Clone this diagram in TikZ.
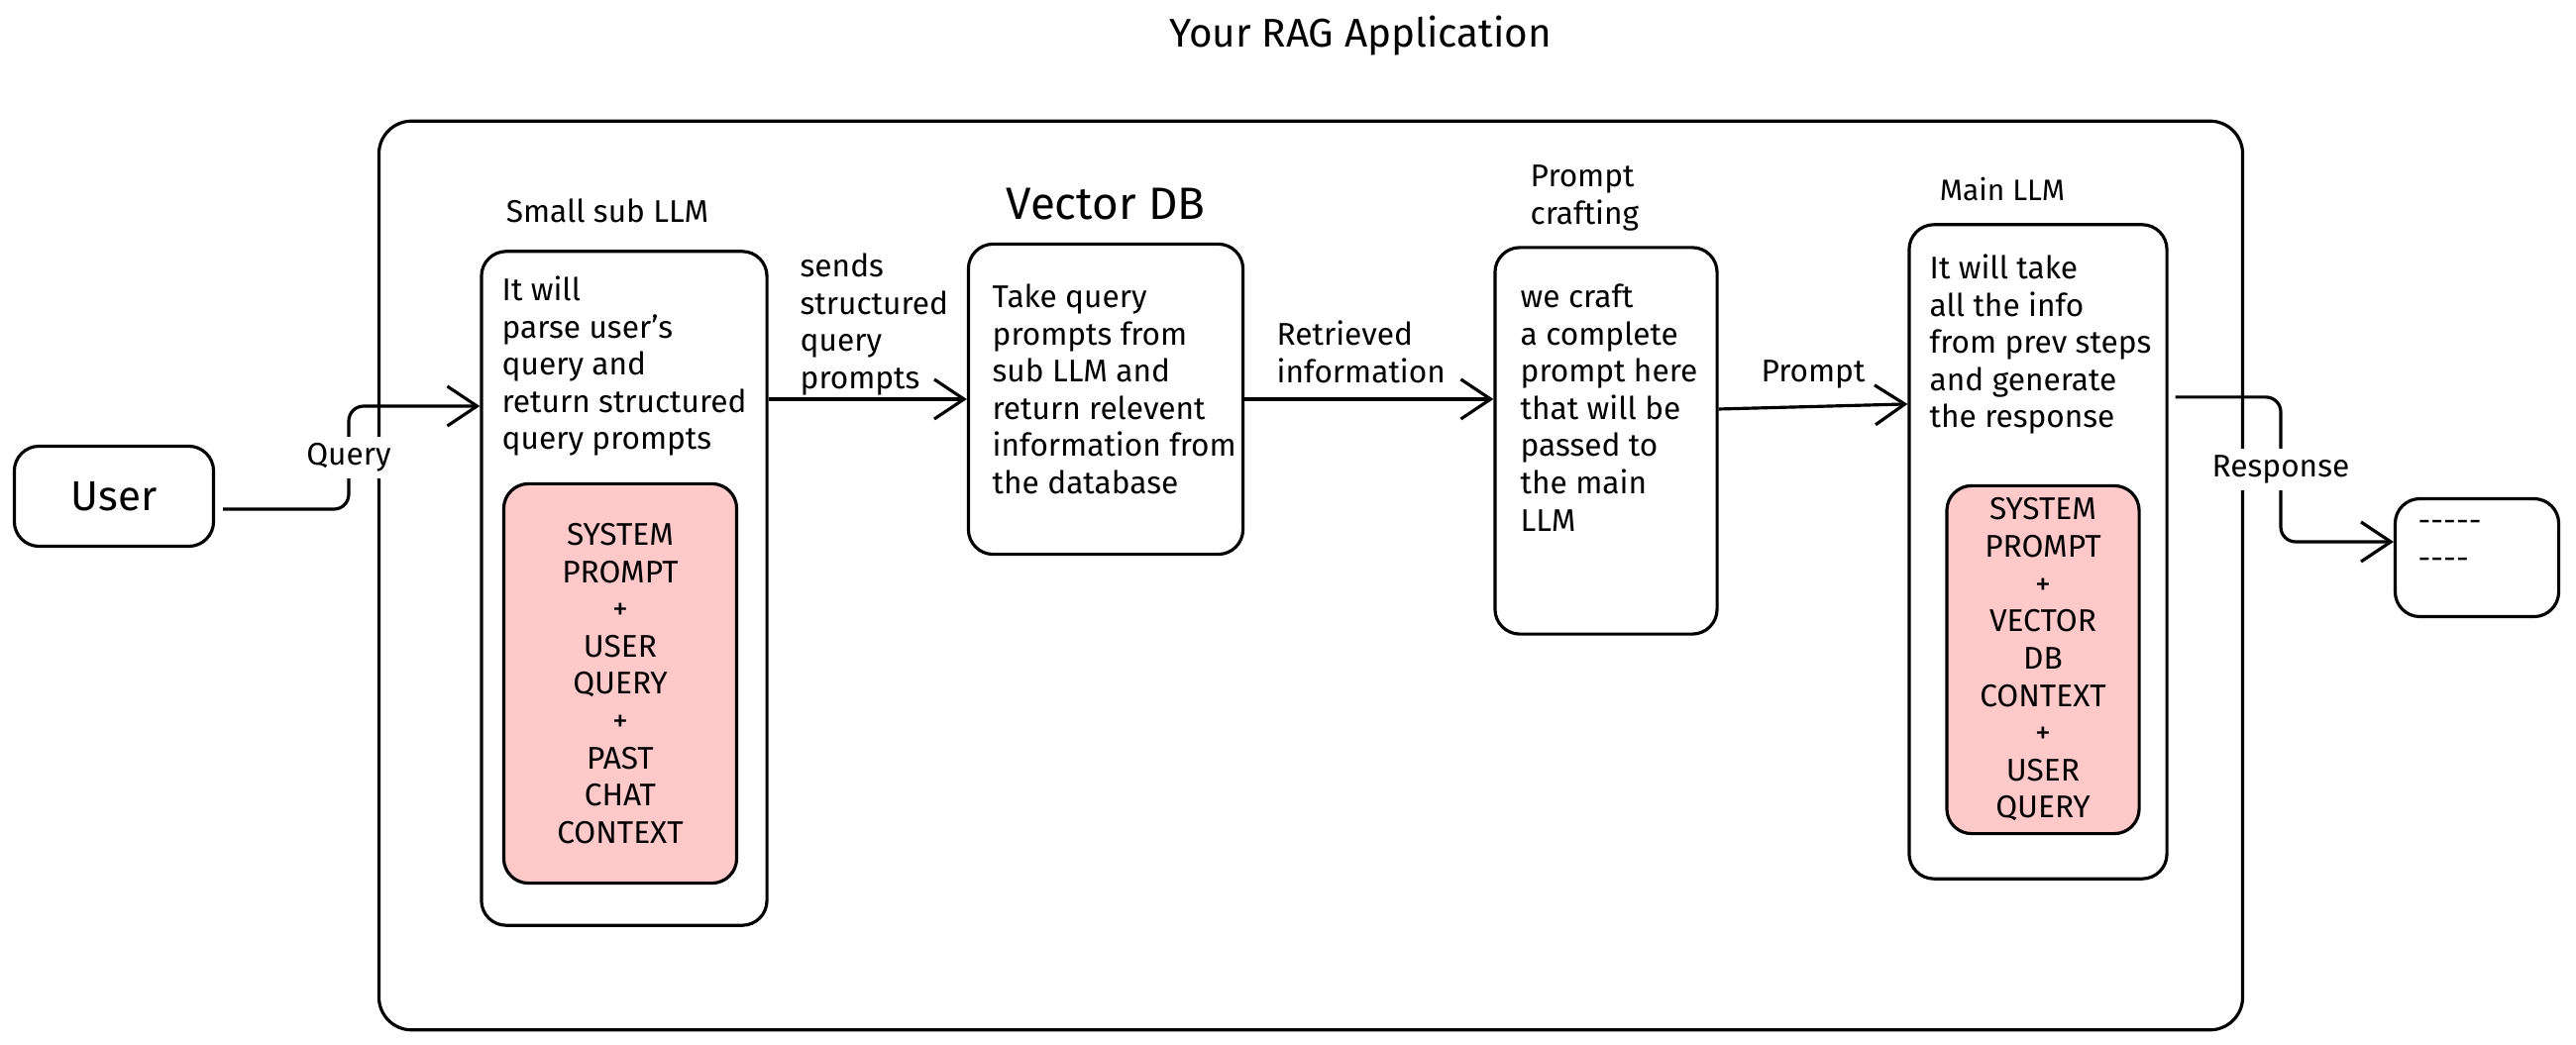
\documentclass[tikz,border=0pt]{standalone}
\usepackage{fontspec}
\setmainfont{Fira Sans}
\usepackage{xcolor}
\usetikzlibrary{arrows.meta,positioning,calc}
\definecolor{softred}{HTML}{FFC9C9}
\tikzset{
    block/.style={
        draw,
        line width=0.9pt,
        rounded corners=0.25cm,
        fill=white,
    },
    ctxbox/.style={
        block,
        fill=softred,
        align=center,
        font=\fontsize{9}{10.7}\selectfont,
    },
    txt/.style={
        inner sep=0pt,
        align=left,
        anchor=north west,
        font=\fontsize{9}{10.7}\selectfont,
    },
    tag/.style={
        inner sep=2pt,
        align=center,
        font=\fontsize{9}{10.7}\selectfont,
    },
    flow/.style={
        ->,
        line width=0.9pt,
        rounded corners=0.15cm,
    },
}

\begin{document}
\begin{tikzpicture}[x=0.01cm,y=-0.01cm,>={Straight Barb[length=0.3cm,width=0.4cm]}]
    \useasboundingbox (0,0) rectangle (2600,1055);

    % frame of the application
    \node [block, rounded corners=0.33cm, minimum width=18.8cm, minimum height=9.17cm] (app) at (1323,581) {};
    \node [tag, font=\fontsize{11.5}{13}\selectfont] (title) at (1373,36) {Your RAG Application};

    % boxes
    \node [block, minimum width=2.01cm, minimum height=1.01cm, font=\fontsize{12}{14}\selectfont] (user) at (115,501) {User};
    \node [block, minimum width=2.88cm, minimum height=6.8cm] (sub) at (630,594) {};
    \node [ctxbox, minimum width=2.35cm, minimum height=4.03cm] (subctx) at (626,690) {SYSTEM\\PROMPT\\+\\USER\\QUERY\\+\\PAST\\CHAT\\CONTEXT};
    \node [block, minimum width=2.77cm, minimum height=3.13cm] (vdb) at (1116,403) {};
    \node [block, minimum width=2.24cm, minimum height=3.9cm] (craft) at (1621,445) {};
    \node [block, minimum width=2.6cm, minimum height=6.6cm] (main) at (2057,557) {};
    \node [ctxbox, minimum width=1.94cm, minimum height=3.51cm] (mainctx) at (2062,666) {SYSTEM\\PROMPT\\+\\VECTOR\\DB\\CONTEXT\\+\\USER\\QUERY};
    \node [block, minimum width=1.65cm, minimum height=1.19cm] (out) at (2500,563) {};

    % titles over the boxes
    \node [tag, above=0.2cm of sub, xshift=-0.17cm] {Small sub LLM};
    \node [tag, above=0.15cm of vdb, font=\fontsize{13}{15}\selectfont] {Vector DB};
    \node [tag, above=0.15cm of main, xshift=-0.36cm, font=\fontsize{8.5}{10}\selectfont] {Main LLM};
    \node [txt] (crafttitle) at (1544,166) {Prompt\\crafting};

    % texts in the boxes
    \node [txt] (subtxt) at (506,278) {It will\\parse user's\\query and\\return structured\\query prompts};
    \node [txt] (vdbtxt) at (1001,286) {Take query\\prompts from\\sub LLM and\\return relevent\\information from\\the database};
    \node [txt] (crafttxt) at (1534,286) {we craft\\a complete\\prompt here\\that will be\\passed to\\the main\\LLM};
    \node [txt] (maintxt) at (1947,256) {It will take\\all the info\\from prev steps\\and generate\\the response};
    \node [txt] (outtxt) at (2440,525) {-{}-{}-{}-{}-\\-{}-{}-{}-};

    % connectors
    \coordinate (qturn) at (352,410);
    \coordinate (rturn) at (2302,474);
    \draw [flow] ([xshift=0.08cm,yshift=-0.13cm]user.east) -| (qturn) -- (qturn -| sub.west);
    \draw [flow] (sub.east |- vdb.west) -- (vdb.west);
    \draw [flow] (vdb.east) -- (craft.west |- vdb.east);
    \draw [flow] ([yshift=0.32cm]craft.east) -- node [tag, above=0.1cm] {Prompt} ([yshift=1.49cm]main.west);
    \draw [flow] ([xshift=0.07cm,yshift=1.56cm]main.east) -| (rturn) |- ([yshift=0.16cm]out.west);

    % labels on the connectors
    \node [txt] (sendtxt) at (807,255) {sends\\structured\\query\\prompts};
    \node [txt] (rettxt) at (1288,323) {Retrieved\\information};
    \node [tag, fill=white] (qlbl) at (352,462) {Query};
    \node [tag, fill=white] (rlbl) at (2302,474) {Response};
\end{tikzpicture}
\end{document}
